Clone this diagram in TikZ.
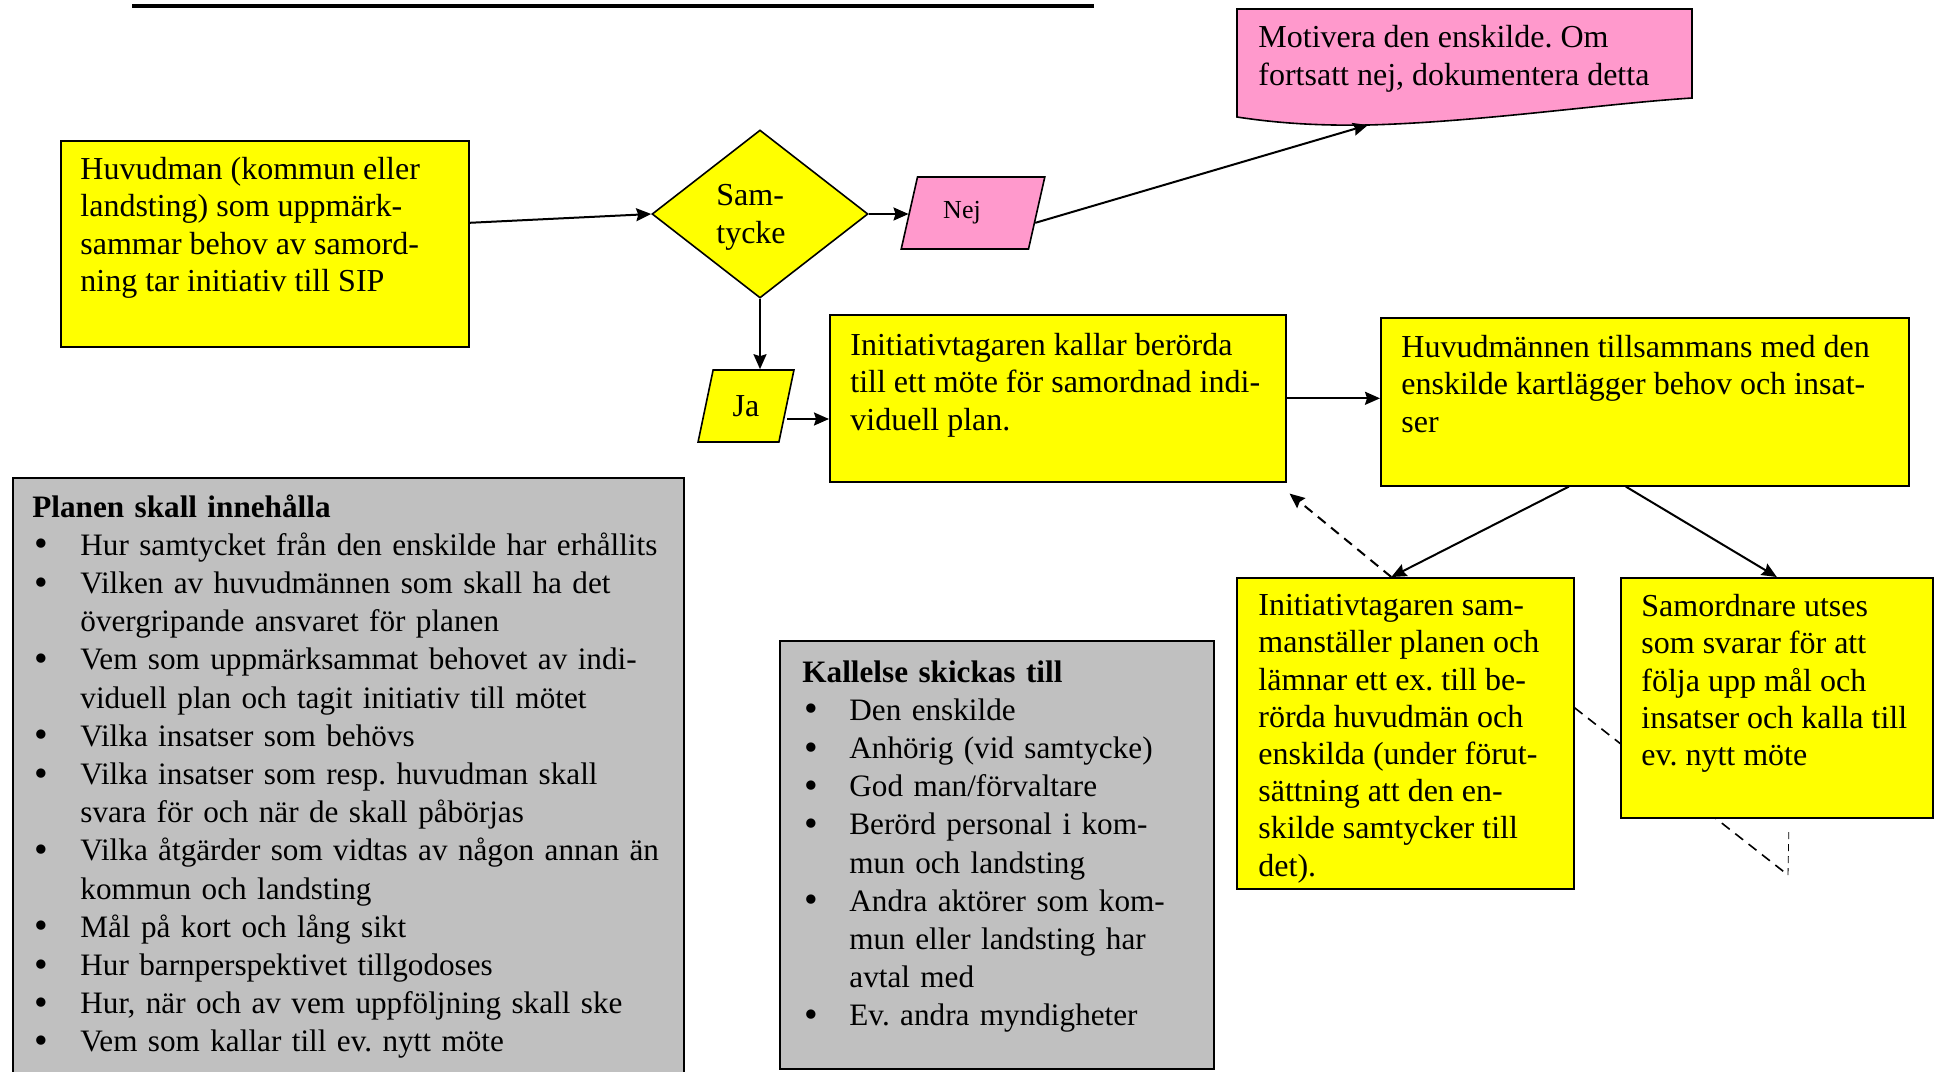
\documentclass[tikz,border=0pt]{standalone}
\usepackage{fontspec}
\setmainfont{Liberation Serif}
\usepackage{enumitem}
\usetikzlibrary{shapes.geometric,arrows.meta,positioning,backgrounds}
\definecolor{sipyellow}{HTML}{FFFF00}
\definecolor{sippink}{HTML}{FF99CC}
\definecolor{sipgrey}{HTML}{C0C0C0}
\frenchspacing
\setlist[itemize]{label=\raisebox{-0.8pt}{\scalebox{1.25}{\textbullet}}, leftmargin=24pt, labelwidth=23pt, labelsep=0pt, align=left, nosep}
\tikzset
{
    box/.style      = {rectangle, draw=black, line width=0.8pt, fill=sipyellow, anchor=north west, inner sep=0pt},
    greybox/.style  = {box, fill=sipgrey},
    boxtext/.style  = {anchor=north west, align=left, inner sep=0pt, font=\fontsize{16}{18.6}\selectfont},
    listtext/.style = {boxtext, font=\fontsize{15.6}{19.1}\selectfont},
    decision/.style = {diamond, draw=black, line width=0.8pt, fill=sipyellow, aspect=1.29, minimum width=108pt, minimum height=84pt, inner sep=0pt, align=left, text depth=0pt, font=\fontsize{16}{18.6}\selectfont},
    answer/.style   = {trapezium, trapezium stretches=true, draw=black, line width=0.8pt, minimum height=36pt, inner sep=0pt, font=\fontsize{16}{18.6}\selectfont},
    arrow/.style    = {line width=1pt, -{Stealth[length=7.5pt, width=6.5pt, inset=1pt]}},
    dasharrow/.style= {arrow, dash pattern=on 5pt off 3.5pt}
}

\begin{document}
\begin{tikzpicture}[x=0.5pt, y=0.5pt]
	\useasboundingbox (0,0) rectangle (1941,-1071);

	% line left from the page above
	\draw [line width=2pt] (132,-6) -- (1094,-6);

	% start and consent
	\node (huvudman) [box, minimum width=204pt, minimum height=103pt] at (60,-140) {};
	\node (huvudmantext) [boxtext] at ([shift={(10pt,-8.5pt)}]huvudman.north west) {Huvudman (kommun eller\\landsting) som uppmärk-\\sammar behov av samord-\\ning tar initiativ till SIP};
	\node (samtycke) [decision] at (760,-214) {Sam-\\tycke\hspace*{9pt}};
	\node (nej) [answer, fill=sippink, trapezium left angle=69, trapezium right angle=111, minimum width=72pt, font=\fontsize{13}{15}\selectfont] at (973,-213) {Nej\hspace*{11pt}};
	\node (ja) [answer, fill=sipyellow, trapezium left angle=74, trapezium right angle=106, minimum width=48pt] at (746,-406) {Ja};

	% document shape for the no answer
	\draw [fill=sippink, line width=0.8pt] (1237,-9) -- (1692,-9) -- (1692,-98) .. controls (1600,-104) and (1480,-122) .. (1368,-125) .. controls (1310,-126) and (1270,-122) .. (1237,-117) -- cycle;
	\coordinate (motivtip) at (1368,-125);
	\node (motiv) [boxtext, font=\fontsize{16}{19}\selectfont] at (1258,-25) {Motivera den enskilde. Om\\fortsatt nej, dokumentera detta};

	% meeting and mapping
	\node (kallar) [box, minimum width=228pt, minimum height=83.5pt] at (829,-314) {};
	\node (kallartext) [boxtext] at ([shift={(10.5pt,-9.5pt)}]kallar.north west) {Initiativtagaren kallar berörda\\till ett möte för samordnad indi-\\viduell plan.};
	\node (kartl) [box, minimum width=264pt, minimum height=84pt] at (1380,-317) {};
	\node (kartltext) [boxtext] at ([shift={(10.5pt,-9pt)}]kartl.north west) {Huvudmännen tillsammans med den\\enskilde kartlägger behov och insat-\\ser};
	\node (sammanst) [box, minimum width=168.5pt, minimum height=155.5pt] at (1236,-577) {};
	\node (sammansttext) [boxtext] at ([shift={(11pt,-8.5pt)}]sammanst.north west) {Initiativtagaren sam-\\manställer planen och\\lämnar ett ex. till be-\\rörda huvudmän och\\enskilda (under förut-\\sättning att den en-\\skilde samtycker till\\det).};
	\node (samordn) [box, minimum width=156pt, minimum height=120pt] at (1620,-577) {};
	\node (samordntext) [boxtext] at ([shift={(10.5pt,-8.5pt)}]samordn.north west) {Samordnare utses\\som svarar för att\\följa upp mål och\\insatser och kalla till\\ev. nytt möte};

	% lists
	\node (planen) [greybox, minimum width=335.5pt, minimum height=299pt] at (12,-477) {};
	\node (planentext) [listtext, text width=340pt] at ([shift={(10pt,-8.5pt)}]planen.north west) {\textbf{Planen skall innehålla}
		\begin{itemize}
			\item Hur samtycket från den enskilde har erhållits
			\item Vilken av huvudmännen som skall ha det\\övergripande ansvaret för planen
			\item Vem som uppmärksammat behovet av indi-\\viduell plan och tagit initiativ till mötet
			\item Vilka insatser som behövs
			\item Vilka insatser som resp. huvudman skall\\svara för och när de skall påbörjas
			\item Vilka åtgärder som vidtas av någon annan än\\kommun och landsting
			\item Mål på kort och lång sikt
			\item Hur barnperspektivet tillgodoses
			\item Hur, när och av vem uppföljning skall ske
			\item Vem som kallar till ev. nytt möte
		\end{itemize}};
	\node (kallelse) [greybox, minimum width=217pt, minimum height=214pt] at (779,-640) {};
	\node (kallelsetext) [listtext, text width=210pt] at ([shift={(11.5pt,-10pt)}]kallelse.north west) {\textbf{Kallelse skickas till}
		\begin{itemize}[labelwidth=22.5pt, leftmargin=23.5pt]
			\item Den enskilde
			\item Anhörig (vid samtycke)
			\item God man/förvaltare
			\item Berörd personal i kom-\\mun och landsting
			\item Andra aktörer som kom-\\mun eller landsting har\\avtal med
			\item Ev. andra myndigheter
		\end{itemize}};

	\draw [arrow] ([yshift=10.5pt]huvudman.east) -- (samtycke.west);
	\draw [arrow] (samtycke.east) -- (samtycke.east -| nej.west);
	\draw [arrow] (nej.-9) -- (motivtip);
	\draw [arrow] (samtycke.south) -- (samtycke.south |- ja.north);
	\draw [arrow] ([yshift=-6.5pt]ja.east) -- ([yshift=-6.5pt]ja.east -| kallar.west);
	\draw [arrow] (kallar.east) -- (kallar.east -| kartl.west);
	\draw [arrow] ([xshift=-38pt]kartl.south) -- ([xshift=-7pt]sammanst.north);
	\draw [arrow] ([xshift=-9.5pt]kartl.south) -- (samordn.north);
	\draw [dasharrow] ([xshift=-7pt]sammanst.north) -- ([shift={(1.5pt,-5.5pt)}]kallar.south east);

	% dashed return path behind the coordinator box
	\coordinate (loopcorner) at (1788,-875);
	\begin{scope}[on background layer]
		\draw [line width=0.8pt, dash pattern=on 5pt off 3.5pt] ([yshift=12.75pt]sammanst.east) -- (loopcorner);
		\draw [line width=0.4pt, dash pattern=on 3.5pt off 2.5pt] (loopcorner) -- ([shift={(6pt,-5pt)}]samordn.south);
	\end{scope}
\end{tikzpicture}
\end{document}
